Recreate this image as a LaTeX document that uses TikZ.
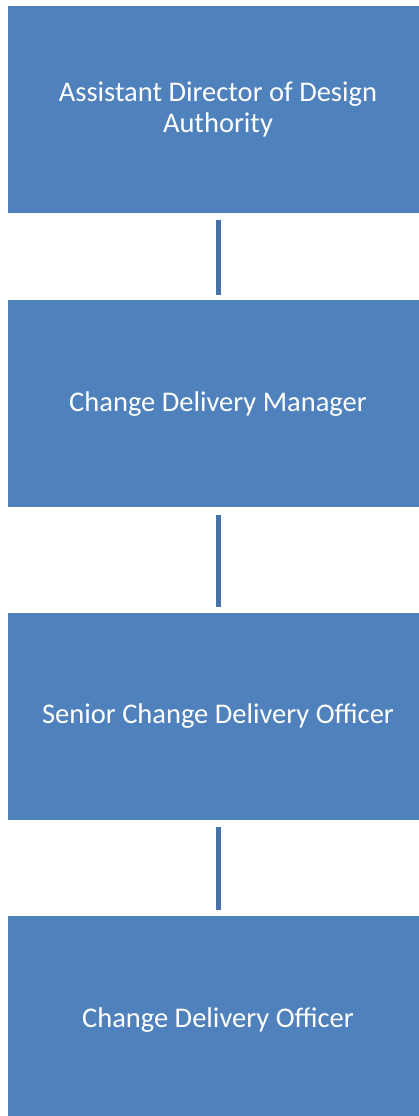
\documentclass[tikz,border=0pt]{standalone}
\usepackage{fontspec}
\setmainfont{Carlito}
\usepackage{tikz}
\usetikzlibrary{positioning}
\definecolor{roleblue}{HTML}{4F81BD}
\definecolor{linkblue}{HTML}{4672A8}

\begin{document}
\begin{tikzpicture}[
        x=1pt, y=1pt,
        role/.style={draw=none, fill=roleblue, text=white, font=\fontsize{28.5}{31}\selectfont, minimum height=207pt, minimum width=420pt, align=center, inner sep=0pt},
        link/.style={draw=linkblue, line width=5pt}
    ]
        \useasboundingbox (0,0) rectangle (418,-1116);
        \node[role] (director) at (218,-109.5) {Assistant Director of Design\\Authority};
        \node[role, below=87pt of director] (manager) {Change Delivery Manager};
        \node[role, below=105pt of manager] (senior) {Senior Change Delivery Officer};
        \node[role, below=96pt of senior] (officer) {Change Delivery Officer};

        \draw[link] ([yshift=-7pt]director.south) -- ([yshift=5pt]manager.north);
        \draw[link] ([yshift=-7pt]manager.south) -- ([yshift=6pt]senior.north);
        \draw[link] ([yshift=-7pt]senior.south) -- ([yshift=6pt]officer.north);
    \end{tikzpicture}
\end{document}
